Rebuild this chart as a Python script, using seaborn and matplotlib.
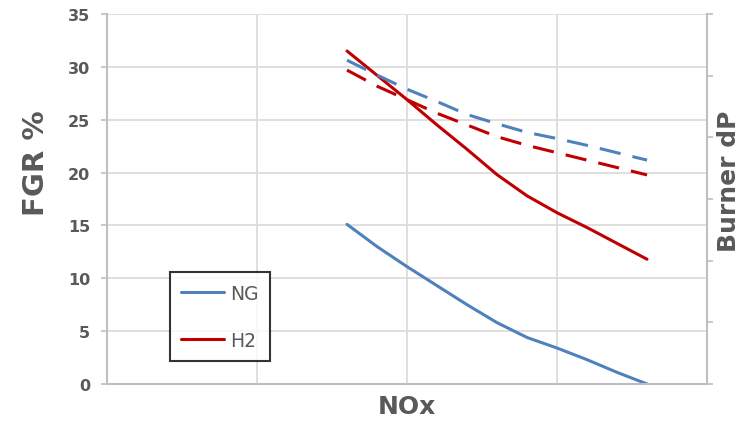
import numpy as np
import pandas as pd
import seaborn as sns
import matplotlib.pyplot as plt

# NOx positions (arbitrary units, no tick labels in the original)
nox = [1.6, 1.8, 2.0, 2.2, 2.4, 2.6, 2.8, 3.0, 3.2, 3.4, 3.6]

# FGR % (left axis)
fgr_ng = [15.1, 13.0, 11.1, 9.3, 7.5, 5.8, 4.4, 3.4, 2.3, 1.1, 0.0]
fgr_h2 = [31.5, 29.2, 26.9, 24.5, 22.2, 19.8, 17.8, 16.2, 14.8, 13.3, 11.8]

# Burner dP (right axis, unlabeled scale 0-6)
dp_ng = [5.25, 5.01, 4.78, 4.58, 4.37, 4.22, 4.08, 3.98, 3.87, 3.75, 3.63]
dp_h2 = [5.09, 4.83, 4.61, 4.39, 4.20, 4.01, 3.87, 3.75, 3.63, 3.51, 3.39]

blue = "#4F81BD"
red = "#C00000"
txt = "#595959"
grid = "#D9D9D9"

sns.set_style("white")
plt.rcParams['font.family'] = ['DejaVu Sans']

fig = plt.figure(figsize=(7.43, 4.27), dpi=100)
ax = fig.add_axes([0.144, 0.0984, 0.8076, 0.8665])

fgr = pd.DataFrame({"NOx": nox * 2,
                    "FGR": fgr_ng + fgr_h2,
                    "fuel": ["NG"] * len(nox) + ["H2"] * len(nox)})
sns.lineplot(data=fgr, x="NOx", y="FGR", hue="fuel", palette={"NG": blue, "H2": red},
             linewidth=2.2, ax=ax, legend=False)

ax.set_xlim(0, 4)
ax.set_ylim(0, 35)
ax.set_xticks([0, 1, 2, 3, 4])
ax.set_xticklabels([])
ax.set_yticks(range(0, 36, 5))
ax.grid(True, color=grid, linewidth=1.2)
ax.set_axisbelow(True)
ax.tick_params(axis="y", length=4, width=1.2, color="#BFBFBF", labelsize=11.5,
               labelcolor=txt, direction="out", left=True, pad=8)
ax.tick_params(axis="x", length=0)
for lbl in ax.get_yticklabels():
    lbl.set_fontweight("bold")
for side in ["top", "right"]:
    ax.spines[side].set_visible(False)
for side in ["left", "bottom"]:
    ax.spines[side].set_color("#BFBFBF")
    ax.spines[side].set_linewidth(1.5)
ax.set_ylabel("FGR %", fontsize=21, fontweight="bold", color=txt, labelpad=13)
ax.yaxis.label.set_y(0.60)
ax.set_xlabel("NOx", fontsize=18, fontweight="bold", color=txt, labelpad=4)

ax2 = ax.twinx()
dp = pd.DataFrame({"NOx": nox * 2,
                   "dP": dp_ng + dp_h2,
                   "fuel": ["NG"] * len(nox) + ["H2"] * len(nox)})
sns.lineplot(data=dp, x="NOx", y="dP", hue="fuel", palette={"NG": blue, "H2": red},
             linewidth=2.2, ax=ax2, legend=False)
for line in ax2.lines:
    line.set_dashes([7, 4])
ax2.set_ylim(0, 6)
ax2.set_yticks(range(0, 7))
ax2.set_yticklabels([])
ax2.tick_params(axis="y", length=4, width=1.2, color="#BFBFBF", direction="out")
for side in ["top", "left", "bottom"]:
    ax2.spines[side].set_visible(False)
ax2.spines["right"].set_color("#BFBFBF")
ax2.spines["right"].set_linewidth(1.5)
ax2.set_ylabel("Burner dP", fontsize=18, fontweight="bold", color=txt, labelpad=0)
ax2.yaxis.label.set_y(0.55)

handles = [plt.Line2D([], [], color=blue, linewidth=2.2),
           plt.Line2D([], [], color=red, linewidth=2.2)]
leg = ax.legend(handles, ["NG", "H2"], loc="lower left", bbox_to_anchor=(0.105, 0.062),
                borderaxespad=0, frameon=True, fancybox=False, fontsize=13.5,
                labelcolor=txt, handlelength=2.3, handletextpad=0.3,
                labelspacing=1.5, borderpad=0.6, edgecolor="black")
leg.get_frame().set_linewidth(1.5)
leg.set_zorder(5)

fig.savefig("out.png", dpi=100)
